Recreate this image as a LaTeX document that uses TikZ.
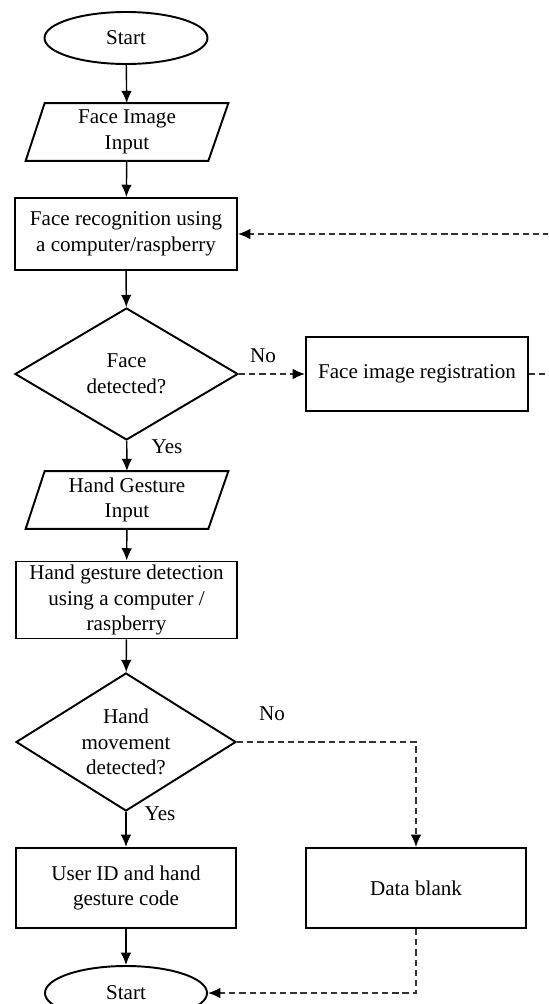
\documentclass[tikz,border=0pt]{standalone}
\usepackage{fontspec}
\setmainfont{Liberation Serif}
\usetikzlibrary{shapes.geometric,arrows.meta}
\newcommand\pxu{0.02cm}
\tikzset{
  every node/.style={font=\fontsize{12}{14.6}\selectfont, align=center},
  box/.style={draw, line width=1.1pt, rectangle, inner sep=0pt},
  term/.style={draw, line width=1.1pt, ellipse, inner sep=0pt,
    minimum width={163*\pxu}, minimum height={52*\pxu}},
  decision/.style={draw, line width=1.1pt, diamond, inner sep=0pt, aspect=1.7},
  iobox/.style={rectangle, inner sep=0pt, minimum width={202*\pxu}, minimum height={57*\pxu}},
  flow/.style={line width=0.8pt, -{Latex[length=7pt,width=6pt]}},
  loopline/.style={line width=0.8pt, black!80, dash pattern=on 3.6pt off 2.2pt},
  loop/.style={loopline, -{Latex[length=7pt,width=6pt,black]}},
}
% parallelogram drawn over an invisible named node
\newcommand\ioshape[1]{%
  \draw[line width=1.1pt] ([xshift={19*\pxu}]#1.north west) -- (#1.north east)
    -- ([xshift={-20*\pxu}]#1.south east) -- (#1.south west) -- cycle;}
\begin{document}
\begin{tikzpicture}[x=\pxu, y=-\pxu]
  \useasboundingbox (0,0) rectangle (548,1004);
  \clip (0,0) rectangle (548,1004);

  % main column
  \node[term] (start) at (126,38) {Start};
  \node[iobox] (in1) at (127,132) {Face Image\\Input};
  \ioshape{in1}
  \node[box, minimum width={222*\pxu}, minimum height={72*\pxu}] (rec) at (126,234)
    {Face recognition using\\a computer/raspberry};
  \node[decision, minimum width={223*\pxu}, minimum height={132*\pxu}] (dec1) at (126.5,374)
    {Face\\detected?};
  \node[box, minimum width={222*\pxu}, minimum height={74*\pxu}] (reg) at (417,374)
    {Face image registration};
  \node[iobox] (in2) at (127,500) {Hand Gesture\\Input};
  \ioshape{in2}
  \node[box, minimum width={221*\pxu}, minimum height={77*\pxu}] (det) at (126.5,600)
    {Hand gesture detection\\using a computer /\\raspberry};
  \node[decision, minimum width={220*\pxu}, minimum height={138*\pxu}] (dec2) at (126,742)
    {Hand\\movement\\detected?};
  \node[box, minimum width={220*\pxu}, minimum height={80*\pxu}] (uid) at (126,888)
    {User ID and hand\\gesture code};
  \node[box, minimum width={220*\pxu}, minimum height={80*\pxu}] (blank) at (416,888)
    {Data blank};
  \node[term, minimum width={162*\pxu}, minimum height={54*\pxu}] (end) at (126,993) {Start};

  % solid flow
  \draw[flow] (start) -- (in1);
  \draw[flow] (in1) -- (rec);
  \draw[flow] (rec) -- (dec1);
  \draw[flow] (dec1) -- (in2);
  \draw[flow] (in2) -- (det);
  \draw[flow] (det) -- (dec2);
  \draw[flow] (dec2) -- (uid);
  \draw[flow] (uid) -- (end);

  % dashed branches
  \draw[loop] (dec1.east) -- (reg.west);
  \coordinate (back) at (580,374);
  \draw[loopline] (reg.east) -- (back) -- (back |- rec.east);
  \draw[loop] (back |- rec.east) -- (rec.east);
  \coordinate (turn) at (blank.north |- dec2.east);
  \draw[loop] (dec2.east) -- (turn) -- (blank.north);
  \coordinate (low) at (blank.south |- end.east);
  \draw[loop] (blank.south) -- (low) -- (end.east);

  % branch labels
  \node (no1) at (263,356) {No};
  \node (yes1) at (167,447) {Yes};
  \node (no2) at (272,714) {No};
  \node (yes2) at (160,814) {Yes};
\end{tikzpicture}
\end{document}
